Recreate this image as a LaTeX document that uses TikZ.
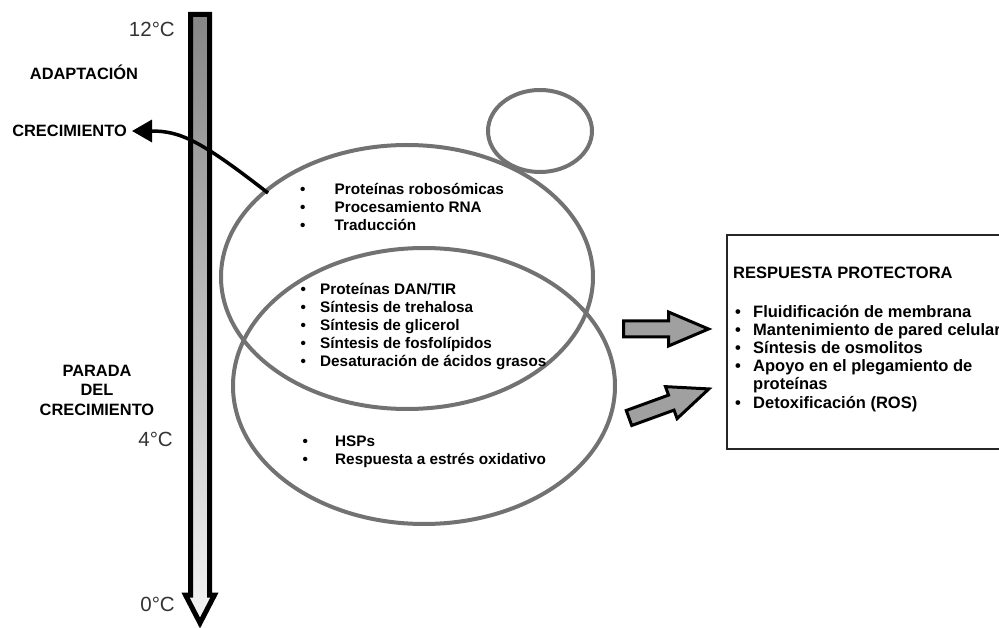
\documentclass[tikz,border=0pt]{standalone}
\usepackage{fontspec}
\setmainfont{Liberation Sans}
\usepackage{array}
\usetikzlibrary{arrows.meta}
\definecolor{ringgray}{HTML}{727272}
\definecolor{bardark}{HTML}{868686}
\definecolor{barlight}{HTML}{F4F4F4}
\definecolor{fatgray}{HTML}{A0A0A0}
\definecolor{tempgray}{HTML}{333333}
\tikzset{
  ring/.style={draw=ringgray, line width=4pt},
  lbl/.style={font=\fontsize{16.4}{19.5}\selectfont\bfseries, inner sep=0pt, align=center},
  temp/.style={font=\fontsize{20.5}{24}\selectfont, text=tempgray, inner sep=0pt, anchor=east},
  itemlist/.style={font=\fontsize{15.3}{18}\selectfont\bfseries, inner sep=0pt, anchor=west},
  boxlist/.style={font=\fontsize{16.5}{18.2}\selectfont\bfseries, inner sep=0pt, anchor=west},
  protbox/.style={draw=black!85, line width=2pt, outer sep=0pt, inner sep=0pt},
  fatarr/.style={draw=black, line width=3pt, fill=fatgray, line join=miter},
  growarrow/.style={line width=3.5pt, -{Triangle[length=20pt, width=22pt]}}
}
% block arrow: #1 tail, #2 angle
\newcommand{\fatarrow}[2]{%
  \begin{scope}[shift={#1}, rotate=#2]
    \draw[fatarr] (0,-8) -- (45,-8) -- (45,-17) -- (85,0) -- (45,17) -- (45,8) -- (0,8) -- cycle;
  \end{scope}}

\begin{document}
\begin{tikzpicture}[x=1pt, y=-1pt]
  \useasboundingbox (0,0) rectangle (999,628);

  % cells
  \coordinate (upcell) at (407,277);
  \coordinate (lowcell) at (424,386);
  \coordinate (bud) at (540,131);
  \draw[ring] (upcell) ellipse [x radius=186pt, y radius=132pt];
  \draw[ring] (lowcell) ellipse [x radius=191pt, y radius=138pt];
  \draw[ring] (bud) ellipse [x radius=52pt, y radius=41pt];

  % temperature bar
  \draw[line width=5pt, line join=miter, top color=bardark, bottom color=barlight]
    (190.5,14.5) -- (209.5,14.5) -- (209.5,595) -- (214.5,595) -- (200,623)
    -- (185.5,595) -- (190.5,595) -- cycle;
  \node[temp] (t12) at (175,29) {12°C};
  \node[temp] (t4) at (173,439) {4°C};
  \node[temp] (t0) at (175,604) {0°C};

  % left labels
  \node[lbl] (adapt) at (84,72) {ADAPTACIÓN};
  \node[lbl, anchor=east, inner xsep=5pt] (crec) at (132,131) {CRECIMIENTO};
  \node[lbl] (parada) at (97,390) {PARADA\\DEL\\CRECIMIENTO};

  % lists
  \node[itemlist] (ribo) at (300,209) {\begin{tabular}{@{}p{34.5pt}@{}l@{}}
    \textbullet & Proteínas robosómicas\\
    \textbullet & Procesamiento RNA\\
    \textbullet & Traducción
  \end{tabular}};
  \node[itemlist] (osmo) at (300.5,327) {\begin{tabular}{@{}p{19.5pt}@{}l@{}}
    \textbullet & Proteínas DAN/TIR\\
    \textbullet & Síntesis de trehalosa\\
    \textbullet & Síntesis de glicerol\\
    \textbullet & Síntesis de fosfolípidos\\
    \textbullet & Desaturación de ácidos grasos
  \end{tabular}};
  \node[itemlist] (hsp) at (302.5,452) {\begin{tabular}{@{}p{32.5pt}@{}l@{}}
    \textbullet & HSPs\\
    \textbullet & Respuesta a estrés oxidativo
  \end{tabular}};

  % growth arrow
  \coordinate (ribostart) at (268,193);
  \draw[growarrow] (ribostart) .. controls (200,140) and (180,131) .. (crec.east);

  % protective response
  \node[protbox, anchor=north west, minimum width=330pt, minimum height=214pt] (resp) at (727,235) {};
  \node[boxlist] (resptitle) at (733,273) {RESPUESTA PROTECTORA};
  \node[boxlist] (resplist) at (735,359) {\begin{tabular}{@{}p{18pt}@{}l@{}}
    \textbullet & Fluidificación de membrana\\
    \textbullet & Mantenimiento de pared celular\\
    \textbullet & Síntesis de osmolitos\\
    \textbullet & Apoyo en el plegamiento de\\
                & proteínas\\
    \textbullet & Detoxificación (ROS)
  \end{tabular}};

  \fatarrow{(623.5,329)}{0}
  \fatarrow{(629,418)}{20}
\end{tikzpicture}
\end{document}
